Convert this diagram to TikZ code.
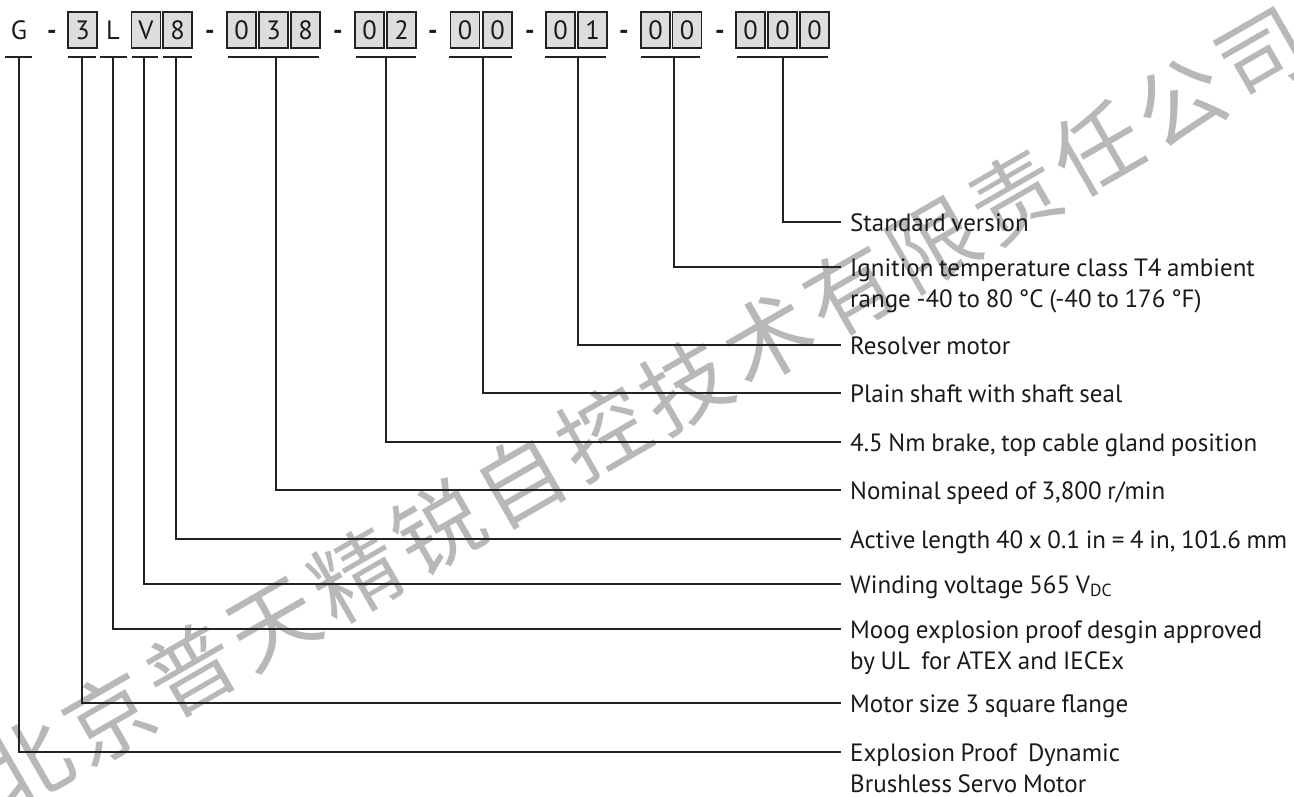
\documentclass[tikz,border=0pt]{standalone}
\usepackage{fontspec}
\setmainfont[WordSpace=0.85]{PT Sans}
\newfontfamily\cjk[LetterSpace=8]{Noto Sans CJK SC}
\definecolor{boxgray}{HTML}{DCDDDF}
\definecolor{ink}{HTML}{1A1A1A}
\definecolor{linec}{HTML}{222222}
\definecolor{wm}{HTML}{B8B8B8}
\newcommand\twolines[2]{\vtop{\hbox{\strut #1}\hbox{\strut #2}}}
\tikzset{
  codefont/.style={font=\fontsize{26.5bp}{31bp}\selectfont, text=ink},
  cbox/.style={codefont, draw=linec, line width=1.3bp, fill=boxgray, minimum width=29bp, minimum height=36bp, inner sep=0pt, text height=18.5bp, text depth=0pt},
  cchar/.style={codefont, inner sep=0pt, text height=18.5bp, text depth=0pt},
  cdash/.style={cchar, font=\fontsize{26.5bp}{31bp}\selectfont\bfseries},
  uline/.style={draw=linec, line width=1.3bp},
  conn/.style={draw=linec, line width=1.3bp},
  lab/.style={font=\fontsize{25bp}{31bp}\selectfont, text=ink, anchor=base west, inner xsep=9bp, inner ysep=0pt},
}
\begin{document}
\begin{tikzpicture}[x=1bp,y=-1bp]
\useasboundingbox (0,0) rectangle (1294,797);
% watermark
\node[font=\cjk\fontsize{88bp}{88bp}\selectfont, text=wm, rotate=29.9, inner sep=0pt] (wmk) at (644,409) {北京普天精锐自控技术有限责任公司};
% code row
\node[cchar] (cG) at (19,30) {G};
\node[cdash] (d1) at (52,30) {-};
\node[cbox] (b3) at (82.5,30) {3};
\node[cchar] (cL) at (113,30) {L};
\node[cbox] (bV) at (146,30) {V};
\node[cbox] (b8) at (177.5,30) {8};
\node[cdash] (d2) at (210,30) {-};
\node[cbox] (b038a) at (241.5,30) {0};
\node[cbox] (b038b) at (273.5,30) {3};
\node[cbox] (b038c) at (305.5,30) {8};
\node[cdash] (d3) at (338,30) {-};
\node[cbox] (b02a) at (369.5,30) {0};
\node[cbox] (b02b) at (401.5,30) {2};
\node[cdash] (d4) at (433,30) {-};
\node[cbox] (b00a) at (465,30) {0};
\node[cbox] (b00b) at (497.5,30) {0};
\node[cdash] (d5) at (530,30) {-};
\node[cbox] (b01a) at (560.5,30) {0};
\node[cbox] (b01b) at (592.5,30) {1};
\node[cdash] (d6) at (624,30) {-};
\node[cbox] (bT0a) at (655.5,30) {0};
\node[cbox] (bT0b) at (687,30) {0};
\node[cdash] (d7) at (720,30) {-};
\node[cbox] (bSa) at (750.5,30) {0};
\node[cbox] (bSb) at (782.5,30) {0};
\node[cbox] (bSc) at (814.5,30) {0};
% underlines
\draw[uline] (5,57) -- (32,57);
\draw[uline] (68,57) -- (96,57);
\draw[uline] (100,57) -- (127,57);
\draw[uline] (132,57) -- (158,57);
\draw[uline] (163,57) -- (192,57);
\draw[uline] (228,57) -- (319,57);
\draw[uline] (356,57) -- (416,57);
\draw[uline] (449,57) -- (512,57);
\draw[uline] (545,57) -- (606,57);
\draw[uline] (641,57) -- (700,57);
\draw[uline] (737,57) -- (828,57);
% tick tops
\coordinate (tG) at (19,57);
\coordinate (t3) at (82,57);
\coordinate (tL) at (113,57);
\coordinate (tV) at (144,57);
\coordinate (t8) at (176,57);
\coordinate (t038) at (276,57);
\coordinate (t02) at (386,57);
\coordinate (t00) at (483,57);
\coordinate (t01) at (578,57);
\coordinate (tT) at (674,57);
\coordinate (tS) at (783,57);
% labels (base at line y + 9)
\node[lab] (lS) at (841,231) {Standard version};
\node[lab] (lT) at (841,276) {\twolines{Ignition temperature class T4 ambient}{range -40 to 80 °C (-40 to 176 °F)}};
\node[lab] (l01) at (841,354) {Resolver motor};
\node[lab] (l00) at (841,402) {Plain shaft with shaft seal};
\node[lab] (l02) at (841,451) {4.5 Nm brake, top cable gland position};
\node[lab] (l038) at (841,499) {Nominal speed of 3,800 r/min};
\node[lab] (l8) at (841,548) {Active length 40 x 0.1 in = 4 in, 101.6 mm};
\node[lab] (lV) at (841,593) {Winding voltage 565 V\textsubscript{DC}};
\node[lab] (lL) at (841,638) {\twolines{Moog explosion proof desgin approved}{by UL~ for ATEX and IECEx}};
\node[lab] (l3) at (841,712) {Motor size 3 square flange};
\node[lab] (lG) at (841,761) {\twolines{Explosion Proof~ Dynamic}{Brushless Servo Motor}};
% connectors
\draw[conn] (tS) |- ([yshift=9bp]lS.base west);
\draw[conn] (tT) |- ([yshift=9bp]lT.base west);
\draw[conn] (t01) |- ([yshift=9bp]l01.base west);
\draw[conn] (t00) |- ([yshift=9bp]l00.base west);
\draw[conn] (t02) |- ([yshift=9bp]l02.base west);
\draw[conn] (t038) |- ([yshift=9bp]l038.base west);
\draw[conn] (t8) |- ([yshift=9bp]l8.base west);
\draw[conn] (tV) |- ([yshift=9bp]lV.base west);
\draw[conn] (tL) |- ([yshift=9bp]lL.base west);
\draw[conn] (t3) |- ([yshift=9bp]l3.base west);
\draw[conn] (tG) |- ([yshift=9bp]lG.base west);
\end{tikzpicture}
\end{document}
